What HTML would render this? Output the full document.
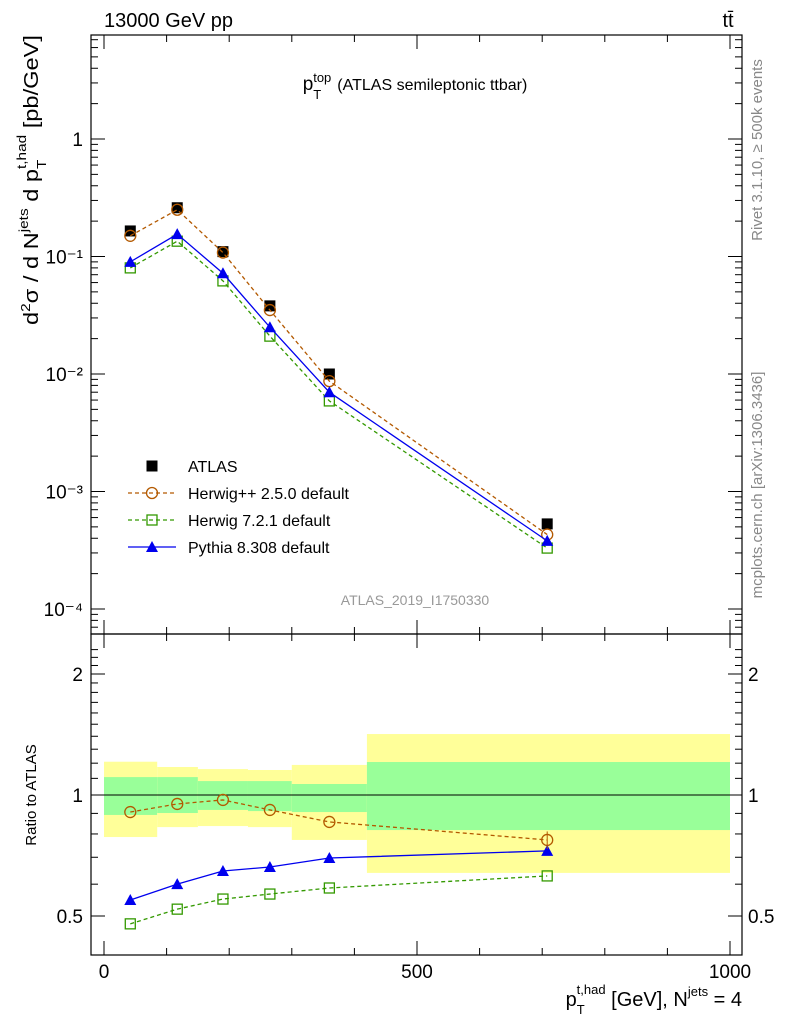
<!DOCTYPE html>
<html><head><meta charset="utf-8"><style>
body{margin:0;background:#fff;}
svg text{font-family:"Liberation Sans",sans-serif;}
</style></head><body>
<svg id="c" width="786" height="1024" viewBox="0 0 786 1024" xmlns="http://www.w3.org/2000/svg">
<text x="104" y="27" font-size="20">13000 GeV pp</text>
<text x="728" y="27" font-size="20" text-anchor="middle">tt̄</text>
<text x="415" y="90" font-size="19" text-anchor="middle">p<tspan font-size="13" dy="9">T</tspan><tspan font-size="13" dx="-8" dy="-17">top</tspan><tspan font-size="16" dy="8" dx="6">(ATLAS semileptonic ttbar)</tspan></text>
<text transform="translate(38,325) rotate(-90)" font-size="20" textLength="290" lengthAdjust="spacingAndGlyphs">d<tspan font-size="13" dy="-8">2</tspan><tspan dy="8">σ / d N</tspan><tspan font-size="13" dy="-10">jets</tspan><tspan dy="10"> d p</tspan><tspan font-size="13" dy="8">T</tspan><tspan font-size="13" dx="-8" dy="-20">t,had</tspan><tspan dy="12"> [pb/GeV]</tspan></text>
<text transform="translate(762,150) rotate(-90)" font-size="15" fill="#888" text-anchor="middle">Rivet 3.1.10, ≥ 500k events</text>
<text transform="translate(762,485) rotate(-90)" font-size="15" fill="#888" text-anchor="middle">mcplots.cern.ch [arXiv:1306.3436]</text>
<text x="415" y="605" font-size="14" fill="#999" text-anchor="middle">ATLAS_2019_I1750330</text>
<text transform="translate(36,795) rotate(-90)" font-size="15" text-anchor="middle">Ratio to ATLAS</text>
<text x="742" y="1006" font-size="20" text-anchor="end">p<tspan font-size="13" dy="8">T</tspan><tspan font-size="13" dx="-8" dy="-20">t,had</tspan><tspan dy="12"> [GeV], N</tspan><tspan font-size="13" dy="-10">jets</tspan><tspan dy="10"> = 4</tspan></text>
<g id="g"></g>
</svg>
<script>
const xCenters=[42,117,190,265,360,708];
const binEdges=[0,85,150,230,300,420,1000];
const atlas=[0.165,0.26,0.11,0.038,0.010,0.00053];
const herwigpp=[0.15,0.25,0.108,0.035,0.0087,0.00043];
const herwig7=[0.08,0.135,0.062,0.021,0.0059,0.00033];
const pythia=[0.09,0.155,0.072,0.025,0.0070,0.00038];
const rHpp=[0.907,0.95,0.972,0.918,0.857,0.773];
const rH7=[0.478,0.52,0.551,0.567,0.587,0.629];
const rPy=[0.548,0.60,0.647,0.662,0.697,0.726];
const yellowLo=[0.786,0.832,0.837,0.832,0.773,0.64];
const yellowHi=[1.21,1.174,1.16,1.154,1.188,1.418];
const greenLo=[0.892,0.902,0.918,0.912,0.907,0.818];
const greenHi=[1.108,1.108,1.083,1.083,1.065,1.208];
const xTicks=[0,500,1000];
const yTicks=[1,0.1,0.01,0.001,0.0001];
const yTickLabels=["1","10⁻¹","10⁻²","10⁻³","10⁻⁴"];
const rTicks=[2,1,0.5];

const NS="http://www.w3.org/2000/svg",G=document.getElementById('g');
const L=91,R=742,T=35,M=634,B=955;
const X=v=>104+v*0.626;
const Y=v=>139-Math.log10(v)*117.5;
const RY=v=>795-Math.log2(v)*121;
function el(t,a,p){const e=document.createElementNS(NS,t);for(const k in a)e.setAttribute(k,a[k]);(p||G).appendChild(e);return e;}
const clip=el('clipPath',{id:'cl'});el('rect',{x:L,y:M,width:R-L,height:B-M},clip);
const bandG=el('g',{'clip-path':'url(#cl)'});
for(let i=0;i<xCenters.length;i++){
  const x0=X(binEdges[i]),x1=X(binEdges[i+1]);
  const y=el('rect',{x:x0,y:RY(yellowHi[i]),width:x1-x0,height:RY(yellowLo[i])-RY(yellowHi[i]),fill:'#ffff99'},bandG);
  
  
  const g=el('rect',{x:x0,y:RY(greenHi[i]),width:x1-x0,height:RY(greenLo[i])-RY(greenHi[i]),fill:'#99ff99'},bandG);
  
  
}
el('line',{x1:L,x2:R,y1:RY(1),y2:RY(1),stroke:'#000','stroke-width':1});
el('rect',{x:L,y:T,width:R-L,height:M-T,fill:'none',stroke:'#000','stroke-width':1.2});
el('rect',{x:L,y:M,width:R-L,height:B-M,fill:'none',stroke:'#000','stroke-width':1.2});
for(let v=0;v<=1000;v+=100){
  const len=v%500==0?14:7,x=X(v);
  for(const [a,b] of [[T,M],[M,B]]){el('line',{x1:x,x2:x,y1:b,y2:b-len,stroke:'#000'});el('line',{x1:x,x2:x,y1:a,y2:a+len,stroke:'#000'});}
}
xTicks.forEach(v=>{const t=el('text',{x:X(v),y:978,'font-size':19,'text-anchor':'middle'});t.textContent=v;

});
for(let e=-5;e<=1;e++)for(let m=1;m<10;m++){const v=m*Math.pow(10,e),y=Y(v);if(y<T||y>M)continue;const len=m==1?14:7;
el('line',{x1:L,x2:L+len,y1:y,y2:y,stroke:'#000'});el('line',{x1:R,x2:R-len,y1:y,y2:y,stroke:'#000'});}
yTicks.forEach((v,i)=>{const t=el('text',{x:L-8,y:Y(v)+7,'font-size':19,'text-anchor':'end'});t.textContent=yTickLabels[i];

});
for(let v=0.5;v<=2.4;v+=0.1){const y=RY(v);if(y<M||y>B)continue;const major=rTicks.some(r=>Math.abs(r-v)<1e-6);const len=major?14:7;
el('line',{x1:L,x2:L+len,y1:y,y2:y,stroke:'#000'});el('line',{x1:R,x2:R-len,y1:y,y2:y,stroke:'#000'});}
rTicks.forEach(v=>{for(const [x,a] of [[L-8,'end'],[R+6,'start']]){const t=el('text',{x:x,y:RY(v)+7,'font-size':19,'text-anchor':a});t.textContent=v;

}});
function mark(type,x,y,col){
  let m;
  if(type=='sq')m=el('rect',{x:x-5.5,y:y-5.5,width:11,height:11,fill:'#000'});
  else if(type=='circ')m=el('circle',{cx:x,cy:y,r:5.5,fill:'none',stroke:col,'stroke-width':1.3});
  else if(type=='osq')m=el('rect',{x:x-5,y:y-5,width:10,height:10,fill:'none',stroke:col,'stroke-width':1.3});
  else m=el('polygon',{points:`${x},${y-6} ${x-6},${y+5} ${x+6},${y+5}`,fill:col});
  return m;
}
function series(vals,fy,col,dash,type,name){
  const pts=vals.map((v,i)=>X(xCenters[i])+','+fy(v)).join(' ');
  const l=el('polyline',{points:pts,fill:'none',stroke:col,'stroke-width':1.3,'stroke-dasharray':dash});
  
  
  vals.forEach((v,i)=>{const m=mark(type,X(xCenters[i]),fy(v),col);
  
  });
}
atlas.forEach((v,i)=>{const m=mark('sq',X(xCenters[i]),Y(v),'#000');

});
series(herwigpp,Y,'#b35900','4,3','circ','herwigpp');
series(herwig7,Y,'#339900','4,3','osq','herwig7');
series(pythia,Y,'#0000ee','','tri','pythia');
series(rHpp,RY,'#b35900','4,3','circ','ratio-herwigpp');
series(rH7,RY,'#339900','4,3','osq','ratio-herwig7');
series(rPy,RY,'#0000ee','','tri','ratio-pythia');
el('line',{x1:X(708),x2:X(708),y1:RY(rHpp[5]*1.05),y2:RY(rHpp[5]*0.95),stroke:'#b35900'});
const leg=[['sq','#000','','ATLAS'],['circ','#b35900','4,3','Herwig++ 2.5.0 default'],['osq','#339900','4,3','Herwig 7.2.1 default'],['tri','#0000ee','','Pythia 8.308 default']];
leg.forEach((d,i)=>{const y=466+i*27;
 const g=el('g',{});
 
 
 if(d[3]!='ATLAS')el('line',{x1:128,x2:176,y1:y,y2:y,stroke:d[1],'stroke-width':1.3,'stroke-dasharray':d[2]},g);
 const m=mark(d[0],152,y,d[1]);g.appendChild(m);
 const t=el('text',{x:188,y:y+6,'font-size':16},g);t.textContent=d[3];});
</script>
</body></html>
